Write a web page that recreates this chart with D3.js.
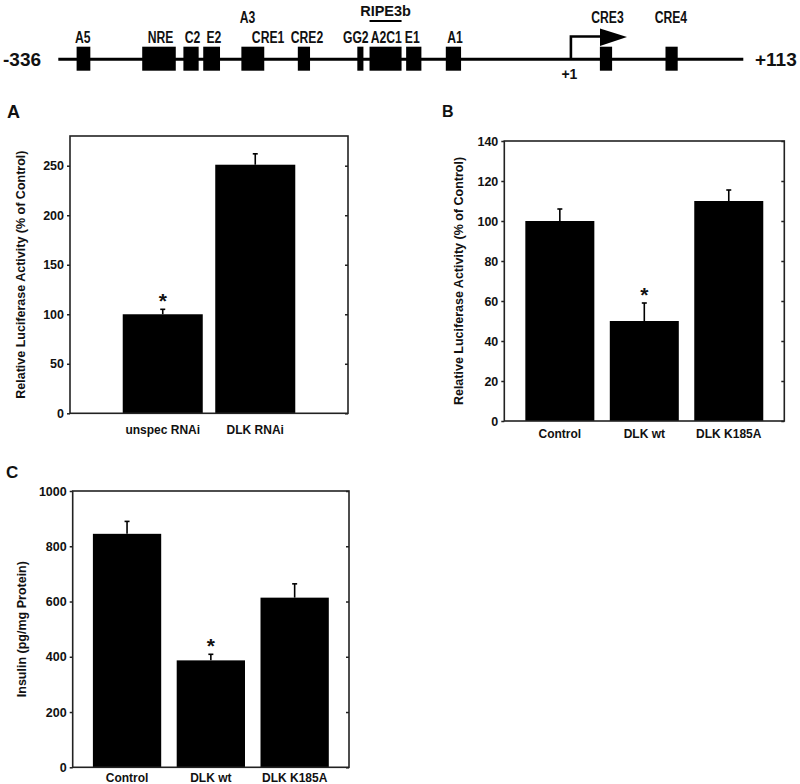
<!DOCTYPE html>
<html>
<head>
<meta charset="utf-8">
<script src="https://cdn.jsdelivr.net/npm/d3@7"></script>
<style>
  html, body { margin: 0; padding: 0; background: #fff; }
  svg { display: block; font-family: "Liberation Sans", Arial, Helvetica, sans-serif; }
</style>
</head>
<body>
<svg id="chart" width="800" height="784"></svg>
<script>
// ---------- Promoter diagram data (bp coordinates) ----------
const promoterRange = [-336, 113];
const elementNames = ["A5", "NRE", "C2", "E2", "A3", "CRE2", "GG2", "A2C1", "E1", "A1", "CRE3", "CRE4"];
const elementStart = [-324, -281, -254, -241, -216, -179, -140, -132, -108, -82, 19, 62];
const elementEnd   = [-315, -259, -244, -230, -201, -171, -136, -111, -98, -72, 27, 70];
const labelText = ["A5", "NRE", "C2", "E2", "A3", "CRE1", "CRE2", "GG2", "A2C1", "E1", "A1", "CRE3", "CRE4"];
const labelBp   = [-320, -269, -248, -234, -212, -198.5, -173, -141, -121, -104, -76, 24, 65.5];
const labelTier = [1, 1, 1, 1, 2, 1, 1, 1, 1, 1, 1, 2, 2];
const ripeLabel = "RIPE3b";
const ripeSpan = [-132, -111];
const tssBp = 0;

// ---------- Panel A ----------
const catsA = ["unspec RNAi", "DLK RNAi"];
const valsA = [100, 251];
const errA  = [5, 11];
const sigA  = [true, false];
const ticksA = [0, 50, 100, 150, 200, 250];
const yMaxA = 280;
const yTitleA = "Relative Luciferase Activity (% of Control)";

// ---------- Panel B ----------
const catsB = ["Control", "DLK wt", "DLK K185A"];
const valsB = [100, 50, 110];
const errB  = [6, 9, 5.5];
const sigB  = [false, true, false];
const ticksB = [0, 20, 40, 60, 80, 100, 120, 140];
const yMaxB = 140;
const yTitleB = "Relative Luciferase Activity (% of Control)";

// ---------- Panel C ----------
const catsC = ["Control", "DLK wt", "DLK K185A"];
const valsC = [845, 387, 614];
const errC  = [45, 22, 50];
const sigC  = [false, true, false];
const ticksC = [0, 200, 400, 600, 800, 1000];
const yMaxC = 1000;
const yTitleC = "Insulin (pg/mg Protein)";

const svg = d3.select("#chart");
svg.append("rect").attr("width", 800).attr("height", 784).attr("fill", "#fff");

// ================= Promoter diagram =================
(function drawDiagram() {
  const x = d3.scaleLinear().domain(promoterRange).range([58.3, 743.3]);
  const lineY = 59.3;
  const g = svg.append("g");
  g.append("line").attr("x1", x(promoterRange[0])).attr("x2", x(promoterRange[1]))
    .attr("y1", lineY).attr("y2", lineY).attr("stroke", "#000").attr("stroke-width", 3);

  g.selectAll("rect.el").data(elementNames).enter().append("rect")
    .attr("class", "el")
    .attr("x", (d, i) => x(elementStart[i]))
    .attr("width", (d, i) => x(elementEnd[i]) - x(elementStart[i]))
    .attr("y", 46.7).attr("height", 24).attr("fill", "#000");

  const tierY = {1: 42.5, 2: 22.5};
  g.selectAll("text.lab").data(labelText).enter().append("text")
    .attr("class", "lab")
    .attr("transform", (d, i) => `translate(${x(labelBp[i])},${tierY[labelTier[i]]}) scale(0.76,1)`)
    .attr("text-anchor", "middle")
    .attr("font-size", 16).attr("font-weight", "bold").attr("fill", "#111")
    .text(d => d);

  // RIPE3b with overline
  g.append("text").attr("x", x((ripeSpan[0] + ripeSpan[1]) / 2)).attr("y", 15.5)
    .attr("text-anchor", "middle").attr("font-size", 14.5).attr("font-weight", "bold")
    .attr("fill", "#111").text(ripeLabel);
  g.append("line").attr("x1", x(ripeSpan[0])).attr("x2", x(ripeSpan[1]))
    .attr("y1", 21).attr("y2", 21).attr("stroke", "#000").attr("stroke-width", 2.2);

  // end labels
  g.append("text").attr("x", 3).attr("y", lineY + 7).attr("font-size", 19)
    .attr("font-weight", "bold").attr("fill", "#111").text(String(promoterRange[0]));
  g.append("text").attr("x", 755).attr("y", lineY + 7).attr("font-size", 19)
    .attr("font-weight", "bold").attr("fill", "#111").text("+" + promoterRange[1]);

  // transcription start arrow
  const tx = x(tssBp);
  g.append("path").attr("d", `M${tx},${lineY} V36.5 H603`)
    .attr("fill", "none").attr("stroke", "#000").attr("stroke-width", 2.6);
  g.append("path").attr("d", `M600,28.5 L627,37 L600,46 Z`).attr("fill", "#000");
  g.append("text").attr("x", tx - 1.5).attr("y", 78.5).attr("text-anchor", "middle")
    .attr("font-size", 14).attr("font-weight", "bold").attr("fill", "#111").text("+" + (tssBp + 1));
})();

// ================= Bar panels =================
function drawPanel(cfg) {
  const { cats, vals, errs, sigs, ticks, yMax, yTitle, left, right, top, bottom,
          padInner, padOuter, letter, letterX, letterY, letterSize, titleX, labelGap } = cfg;
  const g = svg.append("g");
  const x = d3.scaleBand().domain(cats).range([left, right])
    .paddingInner(padInner).paddingOuter(padOuter);
  const y = d3.scaleLinear().domain([0, yMax]).range([bottom, top]);

  // bars
  g.selectAll("rect.bar").data(cats).enter().append("rect")
    .attr("class", "bar")
    .attr("x", d => x(d)).attr("width", x.bandwidth())
    .attr("y", (d, i) => y(vals[i]))
    .attr("height", (d, i) => y(0) - y(vals[i]))
    .attr("fill", "#000");

  // error bars (upper only)
  cats.forEach((c, i) => {
    const cx = x(c) + x.bandwidth() / 2;
    g.append("line").attr("x1", cx).attr("x2", cx)
      .attr("y1", y(vals[i])).attr("y2", y(vals[i] + errs[i]))
      .attr("stroke", "#000").attr("stroke-width", 1.6);
    g.append("line").attr("x1", cx - 2.5).attr("x2", cx + 2.5)
      .attr("y1", y(vals[i] + errs[i])).attr("y2", y(vals[i] + errs[i]))
      .attr("stroke", "#000").attr("stroke-width", 1.6);
    if (sigs[i]) {
      g.append("text").attr("x", cx).attr("y", y(vals[i] + errs[i]) - 1)
        .attr("text-anchor", "middle").attr("font-size", 21).attr("font-weight", "bold")
        .attr("fill", "#111").text("*");
    }
  });

  // left axis (outward ticks) and right axis (inward ticks)
  const yAxisL = d3.axisLeft(y).tickValues(ticks).tickSize(3).tickPadding(3).tickFormat(d3.format("d"));
  const gl = g.append("g").attr("transform", `translate(${left},0)`).call(yAxisL);
  gl.select(".domain").remove();
  gl.selectAll(".tick line").attr("stroke", "#222").attr("stroke-width", 1.5);
  gl.selectAll(".tick text").attr("font-size", 12.5).attr("font-weight", "bold")
    .attr("fill", "#111").attr("font-family", "Liberation Sans, Arial, sans-serif");

  const yAxisR = d3.axisLeft(y).tickValues(ticks).tickSize(3).tickFormat("");
  const gr = g.append("g").attr("transform", `translate(${right},0)`).call(yAxisR);
  gr.select(".domain").remove();
  gr.selectAll(".tick line").attr("stroke", "#222").attr("stroke-width", 1.5);

  // x labels
  const xAxis = d3.axisBottom(x).tickSize(0).tickPadding(labelGap);
  const gx = g.append("g").attr("transform", `translate(0,${bottom})`).call(xAxis);
  gx.select(".domain").remove();
  gx.selectAll(".tick text").attr("font-size", 12).attr("font-weight", "bold")
    .attr("fill", "#111").attr("font-family", "Liberation Sans, Arial, sans-serif");

  // frame
  g.append("rect").attr("x", left).attr("y", top)
    .attr("width", right - left).attr("height", bottom - top)
    .attr("fill", "none").attr("stroke", "#222").attr("stroke-width", 1.6);

  // y title
  g.append("text")
    .attr("transform", `translate(${titleX},${(top + bottom) / 2}) rotate(-90)`)
    .attr("text-anchor", "middle").attr("dy", "0.35em")
    .attr("font-size", 12.5).attr("font-weight", "bold").attr("fill", "#111")
    .text(yTitle);

  // panel letter
  g.append("text").attr("x", letterX).attr("y", letterY)
    .attr("font-size", letterSize).attr("font-weight", "bold").attr("fill", "#111").text(letter);
}

drawPanel({ cats: catsA, vals: valsA, errs: errA, sigs: sigA, ticks: ticksA, yMax: yMaxA,
  yTitle: yTitleA, left: 70, right: 348, top: 136, bottom: 413.3, padInner: 0.135, padOuter: 0.57,
  letter: "A", letterX: 7, letterY: 118, letterSize: 18, titleX: 21, labelGap: 12 });

drawPanel({ cats: catsB, vals: valsB, errs: errB, sigs: sigB, ticks: ticksB, yMax: yMaxB,
  yTitle: yTitleB, left: 504.3, right: 784.3, top: 141, bottom: 421, padInner: 0.183, padOuter: 0.249,
  letter: "B", letterX: 442, letterY: 117, letterSize: 16, titleX: 459, labelGap: 8 });

drawPanel({ cats: catsC, vals: valsC, errs: errC, sigs: sigC, ticks: ticksC, yMax: yMaxC,
  yTitle: yTitleC, left: 72.7, right: 349, top: 491, bottom: 767.3, padInner: 0.185, padOuter: 0.241,
  letter: "C", letterX: 6, letterY: 478, letterSize: 17, titleX: 21.7, labelGap: 6 });
</script>
</body>
</html>
